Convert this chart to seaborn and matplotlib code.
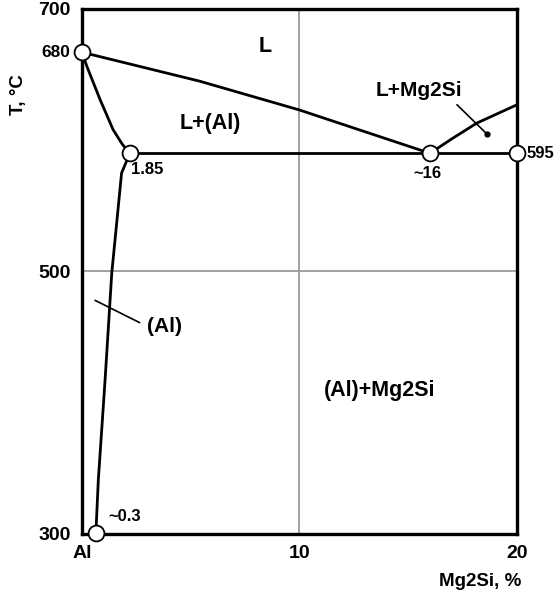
import matplotlib
matplotlib.use("Agg")
import matplotlib.pyplot as plt
import seaborn as sns
import pandas as pd

# Al - Mg2Si quasi-binary section
liq_al_x = [0, 0.23, 0.83, 1.43, 1.85, 2.2]
liq_al_t = [667, 656, 631, 608, 597, 590]
solvus_x = [2.2, 1.82, 1.56, 1.37, 1.06, 0.75, 0.64]
solvus_t = [590, 575, 531, 499, 417, 341, 301]
liq_main_x = [0, 5.4, 10, 16]
liq_main_t = [667, 645, 623, 590]
liq_mg_x = [16, 17, 18.15, 20]
liq_mg_t = [590, 601, 613, 627]
eut_x = [2.2, 20]
eut_t = [590, 590]

pts_x = [0, 2.2, 16, 20, 0.64]
pts_t = [667, 590, 590, 590, 301]

x_ticks = [0, 10, 20]
x_labels = ["Al", "10", "20"]
y_ticks = [300, 500, 700]

sns.set_style("white")
plt.rcParams["font.family"] = ["Liberation Sans", "DejaVu Sans"]
plt.rcParams["font.weight"] = "bold"
plt.rcParams["text.color"] = "black"
plt.rcParams["axes.labelcolor"] = "black"
plt.rcParams["xtick.color"] = "black"
plt.rcParams["ytick.color"] = "black"

curves = pd.concat([
    pd.DataFrame({"x": liq_al_x, "t": liq_al_t, "c": "liq_al"}),
    pd.DataFrame({"x": solvus_x, "t": solvus_t, "c": "solvus"}),
    pd.DataFrame({"x": liq_main_x, "t": liq_main_t, "c": "liq_main"}),
    pd.DataFrame({"x": liq_mg_x, "t": liq_mg_t, "c": "liq_mg"}),
    pd.DataFrame({"x": eut_x, "t": eut_t, "c": "eut"}),
])
points = pd.DataFrame({"x": pts_x, "t": pts_t})

fig = plt.figure(figsize=(5.57, 6.07), dpi=100)
ax = fig.add_axes([0.1472, 0.1203, 0.781, 0.865])

ax.axvline(10, color="#9a9a9a", lw=1.3, zorder=1)
ax.axhline(500, color="#9a9a9a", lw=1.3, zorder=1)

sns.lineplot(data=curves, x="x", y="t", units="c", estimator=None, sort=False,
             color="black", lw=2.0, ax=ax, zorder=3)
sns.scatterplot(data=points, x="x", y="t", s=130, color="white",
                edgecolor="black", linewidth=1.3, ax=ax, zorder=5, clip_on=False)

# leader lines
ax.plot([17.24, 18.6], [627, 605], color="black", lw=1.2, zorder=4)
ax.plot([18.6], [605], marker="o", ms=3.5, color="black", zorder=4)
ax.plot([0.6, 2.65], [478, 461], color="black", lw=1.2, zorder=4)

ax.set_xlim(0, 20)
ax.set_ylim(300, 700)
ax.set_xticks(x_ticks)
ax.set_xticklabels(x_labels)
ax.set_yticks(y_ticks)
ax.tick_params(length=0, labelsize=14, pad=8)
for s in ax.spines.values():
    s.set_linewidth(2.4)
    s.set_color("black")

ax.set_xlabel("Mg2Si, %", fontsize=13.5, fontweight="bold", loc="right")
ax.xaxis.set_label_coords(1.01, -0.075)
ax.set_ylabel("T, °C", fontsize=13.5, fontweight="bold")
ax.yaxis.set_label_coords(-0.126, 0.836)

ax.text(8.4, 671, "L", fontsize=15.5, ha="center", va="center")
ax.text(5.9, 613, "L+(Al)", fontsize=15.5, ha="center", va="center")
ax.text(15.5, 638, "L+Mg2Si", fontsize=15, ha="center", va="center")
ax.text(13.7, 409, "(Al)+Mg2Si", fontsize=15.5, ha="center", va="center")
ax.text(3.8, 458, "(Al)", fontsize=15, ha="center", va="center")

ax.text(-0.55, 667, "680", fontsize=12.5, ha="right", va="center", clip_on=False)
ax.text(20.45, 590, "595", fontsize=12, ha="left", va="center", clip_on=False)
ax.text(3.0, 578, "1.85", fontsize=12, ha="center", va="center")
ax.text(15.9, 575, "~16", fontsize=12, ha="center", va="center")
ax.text(1.95, 313, "~0.3", fontsize=12, ha="center", va="center")

fig.savefig("out.png", dpi=100)
